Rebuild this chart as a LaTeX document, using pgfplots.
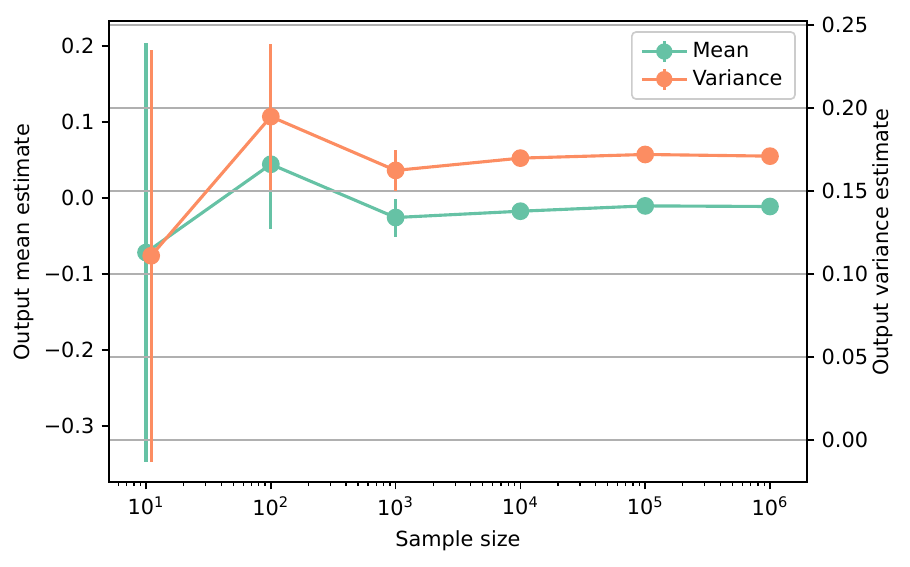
\documentclass[border=0pt]{standalone}
\usepackage{fontspec}
\setmainfont{DejaVu Sans}
\usepackage{pgfplots}
\usepackage{pgfplotstable}
\pgfplotsset{compat=1.18}

\definecolor{meancol}{HTML}{66C2A5}
\definecolor{varcol}{HTML}{FC8D62}
\definecolor{gridgray}{HTML}{B0B0B0}
\definecolor{legedge}{HTML}{CCCCCC}

% sample size, estimate, half-width of the error bar
\pgfplotstableread{
n y e
10 -0.0719 0.276
100 0.0443 0.085
1000 -0.0258 0.025
10000 -0.0175 0.006
100000 -0.0105 0.003
1000000 -0.0113 0.002
}\meandata

\pgfplotstableread{
n y e
11 0.111 0.124
100 0.1948 0.044
1000 0.1624 0.0125
10000 0.1698 0.003
100000 0.172 0.002
1000000 0.171 0.0015
}\vardata

\begin{document}
\begin{tikzpicture}
\useasboundingbox (-52.32pt,-40.32pt) rectangle (384.48pt,231.36pt);

% left axis: mean estimate
\begin{semilogxaxis}[
  scale only axis, width=335.04pt, height=221.28pt,
  xmin=5.05, xmax=1.98e6,
  tick align=outside, major tick length=3.5pt, minor tick length=2pt,
  every tick/.style={black, line width=0.8pt},
  every minor tick/.style={black, line width=0.6pt},
  axis line style={black, line width=0.8pt},
  tick label style={font=\fontsize{10}{12}\selectfont},
  label style={font=\fontsize{10}{12}\selectfont},
  ymin=-0.374, ymax=0.2329,
  ytick={-0.3,-0.2,-0.1,0,0.1,0.2},
  yticklabels={−0.3,−0.2,−0.1,0.0,0.1,0.2},
  xtick={10,100,1000,10000,100000,1000000},
  xticklabels={10\textsuperscript{1},10\textsuperscript{2},10\textsuperscript{3},10\textsuperscript{4},10\textsuperscript{5},10\textsuperscript{6}},
  minor xtick={6,7,8,9,20,30,40,50,60,70,80,90,200,300,400,500,600,700,800,900,
    2000,3000,4000,5000,6000,7000,8000,9000,20000,30000,40000,50000,60000,70000,80000,90000,
    200000,300000,400000,500000,600000,700000,800000,900000},
  xtick pos=bottom, ytick pos=left,
  xlabel={Sample size}, ylabel={Output mean estimate},
  xlabel style={at={(axis description cs:0.5,-0.128)}, anchor=center},
  ylabel style={at={(axis description cs:-0.1228,0.52)}, anchor=center},
]
\addplot[meancol, line width=1.5pt, mark=*, mark size=3.5pt,
    mark options={solid, fill=meancol, draw=meancol},
    error bars/.cd, y dir=both, y explicit, error mark=none,
    error bar style={line width=1.5pt, meancol}]
  table[x=n, y=y, y error=e] {\meandata};
\end{semilogxaxis}

% right axis: variance estimate
\begin{semilogxaxis}[
  scale only axis, width=335.04pt, height=221.28pt,
  xmin=5.05, xmax=1.98e6,
  tick align=outside, major tick length=3.5pt,
  every tick/.style={black, line width=0.8pt},
  axis line style={black, line width=0.8pt},
  tick label style={font=\fontsize{10}{12}\selectfont},
  label style={font=\fontsize{10}{12}\selectfont},
  ymin=-0.0253, ymax=0.2524,
  ytick={0,0.05,0.10,0.15,0.20,0.25},
  yticklabels={0.00,0.05,0.10,0.15,0.20,0.25},
  ytick pos=right, yticklabel pos=right,
  xtick=\empty, minor xtick={},
  ymajorgrids, grid style={gridgray, line width=0.8pt},
  ylabel={Output variance estimate},
  ylabel style={at={(axis description cs:1.109,0.52)}, anchor=center},
  legend cell align=left,
  legend style={at={(rel axis cs:0.984,0.978)}, anchor=north east,
    draw=legedge, line width=0.8pt, rounded corners=2pt, fill=white,
    font=\fontsize{10}{12}\selectfont, row sep=0.3pt, inner xsep=4pt, inner ysep=3pt},
]
\addlegendimage{legend image code/.code={
    \draw[meancol, line width=1.5pt] (0pt,0pt) -- (21.6pt,0pt);
    \draw[meancol, line width=1.5pt] (10.8pt,-5pt) -- (10.8pt,5pt);
    \fill[meancol] (10.8pt,0pt) circle (3.5pt);}}
\addlegendentry{Mean}
\addplot[forget plot, varcol, line width=1.5pt, mark=*, mark size=3.5pt,
    mark options={solid, fill=varcol, draw=varcol},
    error bars/.cd, y dir=both, y explicit, error mark=none,
    error bar style={line width=1.5pt, varcol}]
  table[x=n, y=y, y error=e] {\vardata};
\addlegendimage{legend image code/.code={
    \draw[varcol, line width=1.5pt] (0pt,0pt) -- (21.6pt,0pt);
    \draw[varcol, line width=1.5pt] (10.8pt,-5pt) -- (10.8pt,5pt);
    \fill[varcol] (10.8pt,0pt) circle (3.5pt);}}
\addlegendentry{Variance}
\end{semilogxaxis}
\end{tikzpicture}
\end{document}
